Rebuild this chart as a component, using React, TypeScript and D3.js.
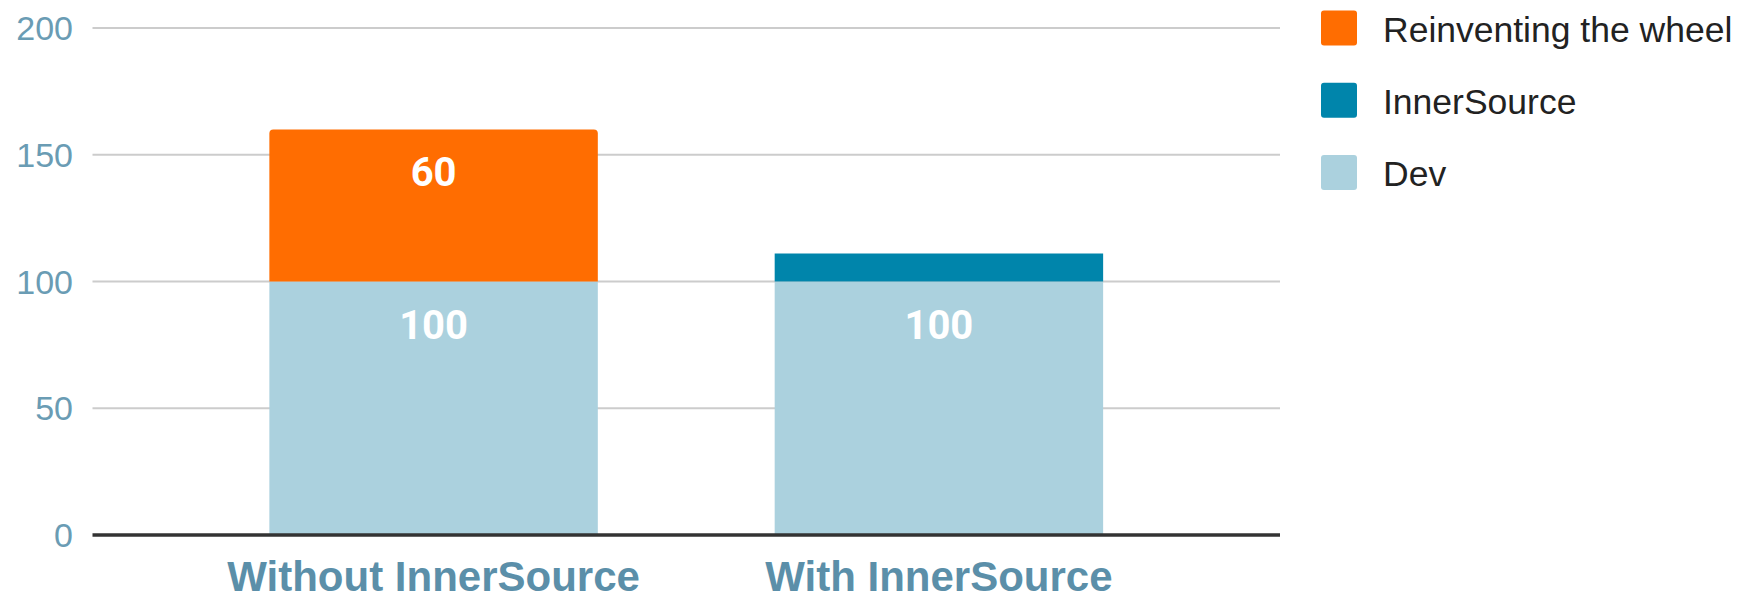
import React, { useEffect, useRef } from "react";
import * as d3 from "d3";

const categories = ["Without InnerSource", "With InnerSource"];
const seriesNames = ["Dev", "InnerSource", "Reinventing the wheel"];
const devValues = [100, 100];
const innerSourceValues = [0, 11];
const reinventValues = [60, 0];
const yTicks = [0, 50, 100, 150, 200];
const colors = ["#abd1de", "#0085ab", "#ff6d01"];
// legend lists series top to bottom in reverse stacking order
const legendOrder = ["Reinventing the wheel", "InnerSource", "Dev"];

// rounded top corners for the top segment of a stack
const topRoundedRect = (x: number, y: number, w: number, h: number, r: number) => {
  const rr = Math.min(r, h, w / 2);
  return `M${x},${y + h}V${y + rr}Q${x},${y} ${x + rr},${y}H${x + w - rr}Q${x + w},${y} ${x + w},${y + rr}V${y + h}Z`;
};

export default function App() {
  const svgRef = useRef<SVGSVGElement>(null);

  useEffect(() => {
    document.body.style.margin = "0";
    if (!svgRef.current) return;

    const svg = d3.select(svgRef.current);
    svg.selectAll("*").remove();

    const left = 92.5;
    const right = 1280;
    const top = 28;
    const bottom = 535;

    const x = d3.scaleBand<string>().domain(categories).range([left, right]).padding(0.35);
    const y = d3.scaleLinear().domain([0, 200]).range([bottom, top]);

    const color = d3.scaleOrdinal<string, string>().domain(seriesNames).range(colors);

    const table = categories.map((c, i) => ({
      category: c,
      Dev: devValues[i],
      InnerSource: innerSourceValues[i],
      "Reinventing the wheel": reinventValues[i],
    }));
    const stacked = d3.stack<any>().keys(seriesNames)(table);

    // gridlines
    svg
      .append("g")
      .selectAll("line")
      .data(yTicks.filter((t) => t > 0))
      .join("line")
      .attr("x1", left)
      .attr("x2", right)
      .attr("y1", (d) => y(d))
      .attr("y2", (d) => y(d))
      .attr("stroke", "#cccccc")
      .attr("stroke-width", 2);

    // y tick labels
    svg
      .append("g")
      .selectAll("text")
      .data(yTicks)
      .join("text")
      .attr("x", 73)
      .attr("y", (d) => y(d))
      .attr("dy", "0.36em")
      .attr("text-anchor", "end")
      .attr("fill", "#6a9cb4")
      .style("font-family", "'Liberation Sans', Arial, sans-serif")
      .style("font-size", "34px")
      .text((d) => d);

    // find top-most non-empty segment per category
    const topKey = categories.map((_, i) => {
      let k = "";
      stacked.forEach((s) => {
        if (s[i][1] - s[i][0] > 0) k = s.key;
      });
      return k;
    });

    stacked.forEach((s) => {
      s.forEach((d, i) => {
        const v = d[1] - d[0];
        if (v <= 0) return;
        const bx = x(categories[i])!;
        const bw = x.bandwidth();
        const y0 = y(d[1]);
        const h = y(d[0]) - y(d[1]);
        svg
          .append("path")
          .attr("d", topRoundedRect(bx, y0, bw, h, topKey[i] === s.key && h > 60 ? 4 : 0))
          .attr("fill", color(s.key));
        // value labels for segments big enough
        if (h > 60) {
          svg
            .append("text")
            .attr("x", bx + bw / 2)
            .attr("y", y0 + 57)
            .attr("text-anchor", "middle")
            .attr("fill", "#ffffff")
            .style("font-family", "Roboto, sans-serif")
            .style("font-weight", "bold")
            .style("font-size", "40px")
            .text(v);
        }
      });
    });

    // x axis baseline
    svg
      .append("line")
      .attr("x1", left)
      .attr("x2", right)
      .attr("y1", y(0))
      .attr("y2", y(0))
      .attr("stroke", "#333333")
      .attr("stroke-width", 3.5);

    // category labels
    svg
      .append("g")
      .selectAll("text")
      .data(categories)
      .join("text")
      .attr("x", (d) => x(d)! + x.bandwidth() / 2)
      .attr("y", 591)
      .attr("text-anchor", "middle")
      .attr("fill", "#5b8fa9")
      .style("font-family", "'Liberation Sans', Arial, sans-serif")
      .style("font-weight", "bold")
      .style("font-size", "42px")
      .text((d) => d);

    // legend
    const legend = svg
      .append("g")
      .selectAll("g")
      .data(legendOrder)
      .join("g")
      .attr("transform", (d, i) => `translate(1321,${28 + i * 72.3})`);

    legend
      .append("rect")
      .attr("x", 0)
      .attr("y", -17.5)
      .attr("width", 36)
      .attr("height", 35)
      .attr("rx", 3)
      .attr("fill", (d) => color(d));

    legend
      .append("text")
      .attr("x", 62)
      .attr("y", 1)
      .attr("dy", "0.36em")
      .attr("fill", "#222222")
      .style("font-family", "'Liberation Sans', Arial, sans-serif")
      .style("font-size", "35.5px")
      .text((d) => d);
  }, []);

  return (
    <div>
      <svg ref={svgRef} width="1748" height="597" style={{ display: "block", background: "#ffffff" }} />
    </div>
  );
}
